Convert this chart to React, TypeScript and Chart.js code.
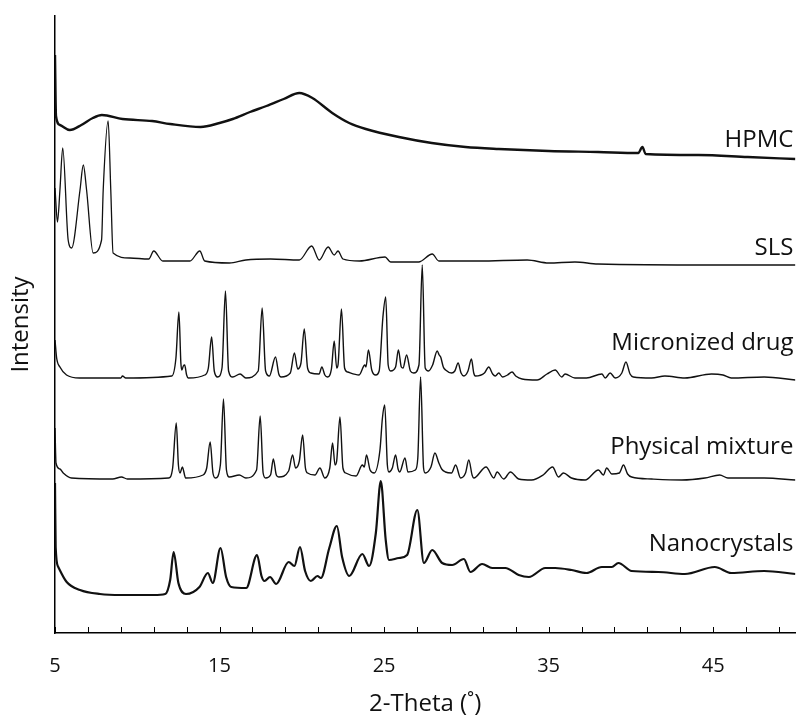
import React, { useEffect, useRef } from 'react';
import { Chart, registerables } from 'chart.js';

Chart.register(...registerables);

// ---- Data (2-Theta in degrees, intensity in arbitrary stacked units) ----
const xTickValues = [5, 7, 9, 11, 13, 15, 17, 19, 21, 23, 25, 27, 29, 31, 33, 35, 37, 39, 41, 43, 45, 47, 49];
const xTickLabels = ['5', '15', '25', '35', '45'];
const seriesNames = ['HPMC', 'SLS', 'Micronized drug', 'Physical mixture', 'Nanocrystals'];

const hpmc: [number, number][] = [
  [5.0, 578], [5.06, 517], [5.3, 508], [5.9, 503], [6.6, 508], [7.3, 515], [7.85, 518], [9.1, 514],
  [10.9, 512], [12.0, 509], [13.85, 506], [15.0, 510], [15.8, 514], [16.85, 521], [17.85, 527],
  [18.9, 534], [19.85, 540], [20.64, 535], [21.85, 520], [22.88, 510], [23.89, 504], [25.9, 496],
  [27.9, 490], [29.95, 486], [31.97, 484], [35.0, 482], [38.0, 481], [40.45, 480], [40.7, 486],
  [40.9, 479], [44.1, 478], [47.1, 476], [50.0, 474],
];

const sls: [number, number][] = [
  [5.0, 445], [5.15, 411], [5.3, 443], [5.47, 485], [5.8, 393], [6.01, 385], [6.52, 443], [6.72, 468],
  [6.92, 443], [7.32, 380], [7.83, 393], [7.93, 443], [8.23, 512], [8.39, 443], [8.53, 380], [9.55, 375],
  [10.7, 374], [11.0, 382], [11.55, 372], [13.2, 372], [13.8, 382], [14.1, 372], [15.6, 370], [16.6, 373],
  [18.1, 374], [19.85, 373], [20.6, 387], [21.06, 373], [21.6, 386], [21.97, 378], [22.2, 382],
  [22.5, 374], [23.5, 372], [25.06, 376], [25.4, 371], [27.1, 371], [27.93, 379], [28.33, 372],
  [30.76, 372], [33.7, 373], [35.0, 370], [36.6, 371], [38.0, 369], [45.0, 368], [50.0, 368],
];

const micronized: [number, number][] = [
  [5.0, 293], [5.1, 275], [5.3, 266], [5.7, 258], [6.5, 255], [9.0, 255], [9.1, 257], [9.3, 255],
  [12.1, 257], [12.35, 275], [12.53, 321], [12.65, 270], [12.71, 263], [12.8, 267], [12.88, 268],
  [13.0, 258], [13.1, 255], [14.1, 258], [14.32, 265], [14.52, 296], [14.68, 262], [14.88, 256],
  [15.15, 265], [15.36, 342], [15.55, 262], [15.8, 256], [16.25, 259], [16.6, 255], [17.35, 262],
  [17.59, 325], [17.8, 262], [18.03, 257], [18.4, 276], [18.6, 259], [18.74, 256], [19.3, 260],
  [19.55, 280], [19.75, 264], [19.95, 270], [20.15, 304], [20.35, 265], [20.55, 260], [21.05, 259],
  [21.22, 266], [21.4, 258], [21.56, 256], [21.8, 264], [21.97, 292], [22.12, 265], [22.2, 268],
  [22.41, 324], [22.6, 265], [22.78, 261], [23.48, 258], [23.83, 268], [23.9, 266], [24.05, 283],
  [24.25, 263], [24.5, 258], [24.7, 262], [24.93, 316], [25.1, 336], [25.25, 268], [25.4, 262],
  [25.7, 266], [25.87, 283], [26.05, 266], [26.15, 265], [26.37, 278], [26.6, 262], [26.8, 260],
  [27.12, 268], [27.32, 368], [27.5, 265], [27.7, 262], [27.95, 268], [28.23, 282], [28.35, 278],
  [28.44, 276], [28.6, 266], [28.74, 263], [29.1, 260], [29.3, 262], [29.5, 270], [29.68, 260],
  [29.85, 257], [30.1, 262], [30.31, 274], [30.45, 260], [30.55, 257], [31.1, 260], [31.36, 266],
  [31.6, 259], [31.76, 257], [31.97, 260], [32.2, 256], [32.5, 258], [32.78, 261], [33.0, 257],
  [33.39, 254], [34.3, 253], [34.9, 259], [35.4, 263], [35.8, 256], [36.0, 259], [36.6, 255],
  [37.3, 255], [38.24, 259], [38.44, 255], [38.74, 260], [39.05, 255], [39.45, 260], [39.7, 271],
  [39.95, 259], [40.15, 256], [41.26, 255], [42.07, 257], [43.28, 255], [44.9, 259], [45.6, 258],
  [46.1, 255], [48.1, 256], [50.0, 253],
];

const physicalMixture: [number, number][] = [
  [5.0, 205], [5.06, 170], [5.3, 164], [5.5, 160], [6.0, 155], [8.5, 154], [9.04, 156], [9.4, 154],
  [11.9, 155], [12.15, 165], [12.37, 210], [12.5, 168], [12.6, 160], [12.74, 166], [12.94, 155],
  [14.0, 158], [14.22, 165], [14.43, 191], [14.6, 160], [14.75, 155], [15.05, 168], [15.24, 234],
  [15.42, 163], [15.6, 156], [16.2, 158], [16.6, 155], [17.25, 163], [17.47, 217], [17.65, 160],
  [17.8, 155], [18.1, 158], [18.27, 174], [18.45, 158], [18.6, 156], [19.2, 162], [19.44, 178],
  [19.62, 165], [19.85, 172], [20.05, 198], [20.22, 165], [20.35, 160], [20.8, 158], [21.1, 165],
  [21.4, 155], [21.7, 165], [21.87, 190], [22.02, 168], [22.12, 172], [22.32, 216], [22.5, 165],
  [22.67, 160], [23.3, 157], [23.68, 168], [23.8, 166], [23.93, 178], [24.15, 163], [24.4, 160],
  [24.75, 183], [24.9, 215], [25.04, 228], [25.2, 168], [25.3, 161], [25.5, 165], [25.7, 178],
  [25.85, 164], [25.95, 161], [26.27, 175], [26.45, 161], [26.9, 163], [27.05, 175], [27.22, 256],
  [27.4, 165], [27.5, 160], [27.85, 166], [28.09, 180], [28.33, 170], [28.5, 164], [28.73, 161],
  [29.1, 160], [29.35, 168], [29.65, 155], [29.95, 160], [30.15, 173], [30.35, 158], [30.45, 155],
  [31.2, 166], [31.67, 155], [31.87, 161], [32.27, 154], [32.68, 161], [33.18, 154], [33.97, 153],
  [34.67, 158], [35.24, 166], [35.6, 156], [35.9, 160], [36.39, 155], [37.22, 153], [38.03, 163],
  [38.33, 158], [38.53, 165], [38.84, 159], [39.3, 160], [39.55, 168], [39.8, 159], [40.05, 156],
  [41.26, 154], [43.1, 153], [44.5, 155], [45.4, 158], [45.9, 155], [48.1, 155], [50.0, 153],
];

const nanocrystals: [number, number][] = [
  [5.0, 150], [5.04, 86], [5.2, 66], [5.71, 51], [6.52, 43], [7.73, 39], [9.0, 38], [11.0, 38],
  [11.7, 39], [12.0, 53], [12.21, 81], [12.5, 50], [12.96, 39], [13.78, 46], [14.29, 60], [14.59, 50],
  [15.06, 85], [15.4, 56], [15.71, 46], [16.62, 45], [17.28, 78], [17.55, 57], [17.73, 52], [18.07, 56],
  [18.44, 49], [19.2, 71], [19.55, 67], [19.89, 86], [20.2, 62], [20.55, 52], [20.95, 57], [21.16, 55],
  [21.67, 85], [22.13, 107], [22.45, 76], [22.88, 57], [23.68, 79], [24.09, 67], [24.5, 100],
  [24.8, 152], [25.1, 93], [25.3, 73], [25.9, 75], [26.4, 78], [27.02, 123], [27.42, 70], [27.93, 83],
  [28.53, 70], [29.14, 68], [29.85, 74], [30.25, 61], [30.96, 69], [31.57, 65], [32.37, 65],
  [33.18, 58], [33.8, 56], [34.8, 65], [35.4, 65], [36.4, 63], [37.3, 60], [38.23, 66], [38.84, 66],
  [39.24, 70], [40.05, 62], [41.67, 61], [43.28, 59], [45.1, 66], [46.1, 60], [48.1, 62], [50.0, 59],
];

// intensity level of each name label's baseline (same units as the series)
const labelLevels = [486, 378, 283, 179, 82];

const FONT = "'Open Sans', 'Noto Sans', sans-serif";

export default function App() {
  const canvasRef = useRef<HTMLCanvasElement | null>(null);

  useEffect(() => {
    const canvas = canvasRef.current;
    if (!canvas) return;

    const series = [hpmc, sls, micronized, physicalMixture, nanocrystals];
    const widths = [2.4, 1.3, 1.4, 1.4, 2.2];

    const tickMarks = {
      id: 'tickMarks',
      afterDraw(chart: any) {
        const { ctx, chartArea } = chart;
        const xs = chart.scales.x;
        ctx.save();
        ctx.strokeStyle = '#000';
        ctx.lineWidth = 1;
        xs.ticks.forEach((t: any) => {
          const px = Math.round(xs.getPixelForValue(t.value)) + 0.5;
          ctx.beginPath();
          ctx.moveTo(px, chartArea.bottom);
          ctx.lineTo(px, chartArea.bottom - 6);
          ctx.stroke();
        });
        ctx.restore();
      },
    };

    const nameLabels = {
      id: 'nameLabels',
      afterDatasetsDraw(chart: any) {
        const { ctx } = chart;
        const xs = chart.scales.x;
        const ys = chart.scales.y;
        ctx.save();
        ctx.font = `24px ${FONT}`;
        ctx.fillStyle = '#111';
        ctx.textAlign = 'right';
        ctx.textBaseline = 'alphabetic';
        seriesNames.forEach((name, i) => {
          ctx.fillText(name, xs.getPixelForValue(50) - 2, ys.getPixelForValue(labelLevels[i]));
        });
        ctx.restore();
      },
    };

    const chart = new Chart(canvas, {
      type: 'line',
      data: {
        datasets: series.map((s, i) => ({
          label: seriesNames[i],
          data: s.map(([x, y]) => ({ x, y })),
          borderColor: '#111',
          borderWidth: widths[i],
          pointRadius: 0,
          cubicInterpolationMode: 'monotone',
          fill: false,
        })),
      },
      options: {
        animation: false,
        responsive: true,
        maintainAspectRatio: false,
        layout: { padding: { top: 16, right: 2, left: 0, bottom: 0 } },
        plugins: { legend: { display: false }, tooltip: { enabled: false } },
        scales: {
          x: {
            type: 'linear',
            min: 5,
            max: 50,
            afterBuildTicks: (scale: any) => {
              scale.ticks = xTickValues.map((v) => ({ value: v }));
            },
            afterFit: (scale: any) => {
              scale.height = 83;
            },
            ticks: {
              autoSkip: false,
              maxRotation: 0,
              padding: 21,
              color: '#111',
              font: { family: FONT, size: 20 },
              callback: (v: any) => {
                const s = String(v);
                return xTickLabels.includes(s) ? s : '';
              },
            },
            grid: { display: true, drawOnChartArea: false, drawTicks: false },
            border: { display: true, color: '#000', width: 1.5 },
            title: {
              display: true,
              text: '2-Theta (˚)',
              color: '#111',
              font: { family: FONT, size: 24, lineHeight: 1.0 },
              padding: { top: 0, bottom: 0 },
            },
          },
          y: {
            type: 'linear',
            min: 0,
            max: 617,
            afterFit: (scale: any) => {
              scale.width = 55;
            },
            ticks: { display: false },
            grid: { display: true, drawOnChartArea: false, drawTicks: false },
            border: { display: true, color: '#000', width: 1.5 },
            title: {
              display: true,
              text: 'Intensity',
              color: '#111',
              font: { family: FONT, size: 24 },
              padding: { top: 7, bottom: 0 },
            },
          },
        },
      },
      plugins: [tickMarks, nameLabels],
    } as any);

    return () => chart.destroy();
  }, []);

  return (
    <div style={{ position: 'absolute', left: 0, top: 0, width: 800, height: 716, background: '#fff' }}>
      <canvas ref={canvasRef} />
    </div>
  );
}
